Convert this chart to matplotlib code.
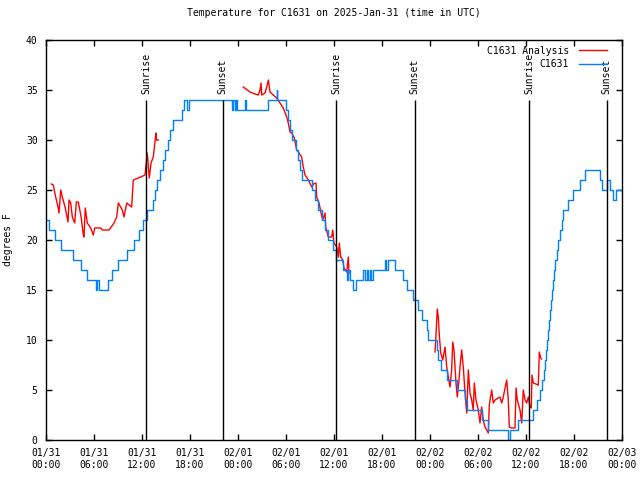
import datetime
import numpy as np
import pandas as pd
import matplotlib
matplotlib.use("Agg")
import matplotlib.pyplot as plt
import matplotlib.dates as mdates

## Donnees (heures depuis 2025-01-31 00:00 UTC)

obs_h = [0.0, 0.34, 1.16, 1.91, 3.41, 4.41, 5.16, 6.21, 6.4, 6.6, 7.75, 8.29, 9.0,
         10.09, 11.0, 11.63, 12.16, 12.59, 13.41, 13.63, 13.84, 14.25, 14.66, 14.88,
         15.19, 15.5, 15.91, 16.96, 17.25, 17.63, 17.88, 23.21, 23.38, 23.58, 23.71,
         23.83, 24.88, 24.96, 27.8, 28.84, 28.92, 29.96, 30.29, 30.5, 30.71, 31.0,
         31.21, 31.54, 31.7, 31.96, 33.21, 33.6, 34.0, 34.46, 34.9, 35.3, 35.91,
         36.25, 37.16, 37.59, 37.79, 38.0, 38.41, 38.75, 39.66, 39.87, 40.09, 40.29,
         40.5, 40.6, 40.91, 42.38, 42.56, 42.75, 43.63, 44.66, 45.09, 45.84, 46.54,
         46.96, 47.59, 47.79, 48.84, 49.04, 49.38, 50.09, 51.34, 52.38, 52.59, 54.46,
         55.29, 57.79, 58.0, 59.04, 60.84, 61.34, 61.75, 61.96, 62.19, 62.38, 62.5,
         62.66, 62.78, 62.9, 63.06, 63.18, 63.29, 63.38, 63.5, 63.65, 63.84, 64.0,
         64.25, 64.46, 64.66, 65.29, 65.91, 66.75, 67.38, 69.31, 69.56, 70.13, 70.56,
         70.91, 71.31, 72.0]
obs_t = [22, 21, 20, 19, 18, 17, 16, 15, 16, 15, 16, 17, 18,
         19, 20, 21, 22, 23, 24, 25, 26, 27, 28, 29,
         30, 31, 32, 33, 34, 33, 34, 33, 34, 33, 34,
         33, 34, 33, 34, 35, 34, 33, 32, 31, 30, 30,
         29, 28, 27, 26, 25, 24, 23, 22, 21, 20, 19,
         18, 17, 16, 17, 16, 15, 16, 17, 16, 17, 16,
         17, 16, 17, 18, 17, 18, 17, 16, 15, 14, 13,
         12, 11, 10, 9, 8, 7, 6, 5, 4, 3, 2,
         1, 0, 1, 2, 3, 4, 5, 6, 7, 8, 9,
         10, 11, 12, 13, 14, 15, 16, 17, 18, 19, 20,
         21, 22, 23, 24, 25, 26, 27, 26, 25, 26, 25,
         24, 25, 25]

ana1_h = [0.66, 0.91, 1.21, 1.5, 1.63, 1.84, 2.04, 2.38, 2.75, 2.88, 3.09, 3.29, 3.59,
          3.79, 4.04, 4.41, 4.63, 4.75, 4.91, 5.16, 5.59, 5.91, 6.09, 6.84, 7.04, 7.88,
          8.5, 8.84, 9.04, 9.54, 9.75, 10.09, 10.71, 10.91, 11.84, 12.38, 12.66, 12.91,
          13.13, 13.41, 13.75, 13.81, 14.04]
ana1_t = [25.6, 25.5, 24.3, 23.3, 22.7, 25.0, 24.3, 23.3, 21.8, 24.0, 23.7, 22.3, 21.7,
          23.8, 23.8, 22.2, 20.7, 20.3, 23.2, 21.7, 21.2, 20.5, 21.2, 21.2, 21.0, 21.0,
          21.7, 22.3, 23.7, 23.0, 22.3, 23.7, 23.3, 26.0, 26.3, 26.5, 28.7, 26.2,
          27.7, 28.3, 30.7, 30.0, 30.0]

ana2_h = [24.66, 25.5, 26.13, 26.54, 26.75, 26.88, 26.96, 27.38, 27.59, 27.79, 28.0,
          28.41, 28.84, 29.25, 29.66, 30.09, 30.29, 30.5, 30.71, 31.04, 31.34, 31.54,
          31.96, 32.16, 32.38, 32.79, 33.21, 33.41, 33.75, 33.84, 34.13, 34.38, 34.59,
          34.88, 34.96, 35.29, 35.71, 35.84, 36.0, 36.34, 36.54, 36.66, 36.84, 37.09,
          37.25, 37.59, 37.79, 37.88]
ana2_t = [35.3, 34.8, 34.6, 34.5, 35.0, 35.7, 34.5, 34.7, 35.3, 36.0, 34.8,
          34.5, 34.2, 33.7, 33.2, 32.3, 31.7, 30.8, 30.7, 30.2, 29.0, 28.8,
          28.3, 27.3, 26.5, 26.0, 25.3, 25.6, 25.7, 24.3, 23.7, 22.7, 22.0,
          22.7, 21.3, 20.3, 20.3, 21.0, 19.7, 19.3, 18.3, 19.7, 18.3, 18.0,
          17.2, 16.8, 18.3, 16.7]

ana3_h = [48.63, 48.75, 48.91, 49.04, 49.16, 49.34, 49.59, 49.88, 50.09, 50.29, 50.5,
          50.71, 50.84, 51.0, 51.25, 51.41, 51.63, 51.75, 51.96, 52.16, 52.38, 52.59,
          52.79, 53.0, 53.21, 53.41, 53.54, 53.75, 54.04, 54.25, 54.46, 54.66, 54.88,
          55.29, 55.41, 55.71, 55.91, 56.13, 56.54, 56.75, 56.96, 57.16, 57.38, 57.59,
          57.79, 57.91, 58.21, 58.63, 58.75, 58.91, 59.25, 59.46, 59.66, 59.88, 60.09,
          60.29, 60.5, 60.66, 60.75, 60.91, 61.54, 61.66, 61.84, 61.96]
ana3_t = [8.8, 10.5, 13.1, 12.3, 10.5, 8.7, 8.0, 9.3, 7.3, 6.3, 5.3,
          7.0, 9.8, 9.0, 5.7, 4.3, 6.0, 7.3, 9.0, 7.3, 4.7, 2.7,
          7.0, 4.7, 4.0, 3.0, 5.7, 4.0, 3.0, 1.7, 3.3, 2.0, 1.3,
          0.7, 3.5, 5.0, 3.7, 4.0, 4.2, 4.3, 3.7, 4.3, 5.2, 6.0,
          4.0, 1.3, 1.2, 1.2, 5.2, 4.0, 3.0, 1.7, 5.0, 4.0, 3.7,
          4.3, 3.3, 3.2, 6.5, 5.7, 5.5, 8.8, 8.2, 8.1]

sun_h = [12.5, 22.1, 36.25, 46.1, 60.4, 70.1]
sun_lbl = ["Sunrise", "Sunset", "Sunrise", "Sunset", "Sunrise", "Sunset"]

t0 = pd.Timestamp("2025-01-31 00:00")
def tt(h):
    return t0 + pd.to_timedelta(np.array(h), unit="h")

plt.rcParams['font.family'] = 'DejaVu Sans Mono'
plt.rcParams['font.size'] = 7

fig = plt.figure(figsize=(6.4, 4.8), dpi=100)
ax = fig.add_axes([46/640, 40/480, 576/640, 400/480])

ax.plot(tt(ana1_h), ana1_t, color='#ff0000', lw=1, label="C1631 Analysis")
ax.plot(tt(ana2_h), ana2_t, color='#ff0000', lw=1)
ax.plot(tt(ana3_h), ana3_t, color='#ff0000', lw=1)
ax.plot(tt(obs_h), obs_t, color='#0080ff', lw=1, drawstyle='steps-post', label="C1631")

for h, s in zip(sun_h, sun_lbl):
    ax.vlines(tt([h]), 0, 34, color='black', lw=1)
    ax.text(tt([h])[0], 34.6, s, rotation=90, ha='center', va='bottom')

ax.set_xlim(tt([0])[0], tt([72])[0])
ax.set_ylim(0, 40)
ax.set_yticks(range(0, 41, 5))
ax.xaxis.set_major_locator(mdates.HourLocator(byhour=[0, 6, 12, 18]))
ax.xaxis.set_major_formatter(mdates.DateFormatter('%m/%d\n%H:%M'))
ax.tick_params(direction='in', top=True, right=True, length=4, width=1, pad=6)
for sp in ax.spines.values():
    sp.set_linewidth(1)

ax.set_title("Temperature for C1631 on 2025-Jan-31 (time in UTC)", fontsize=7, pad=17)
ax.set_ylabel("degrees F", labelpad=9)
ax.legend(loc='upper right', bbox_to_anchor=(1 - 9/576, 1), frameon=False,
          markerfirst=False, handlelength=2.9, borderaxespad=0.2, labelspacing=0.35,
          handletextpad=1.0)

fig.savefig("out.png", dpi=100)
